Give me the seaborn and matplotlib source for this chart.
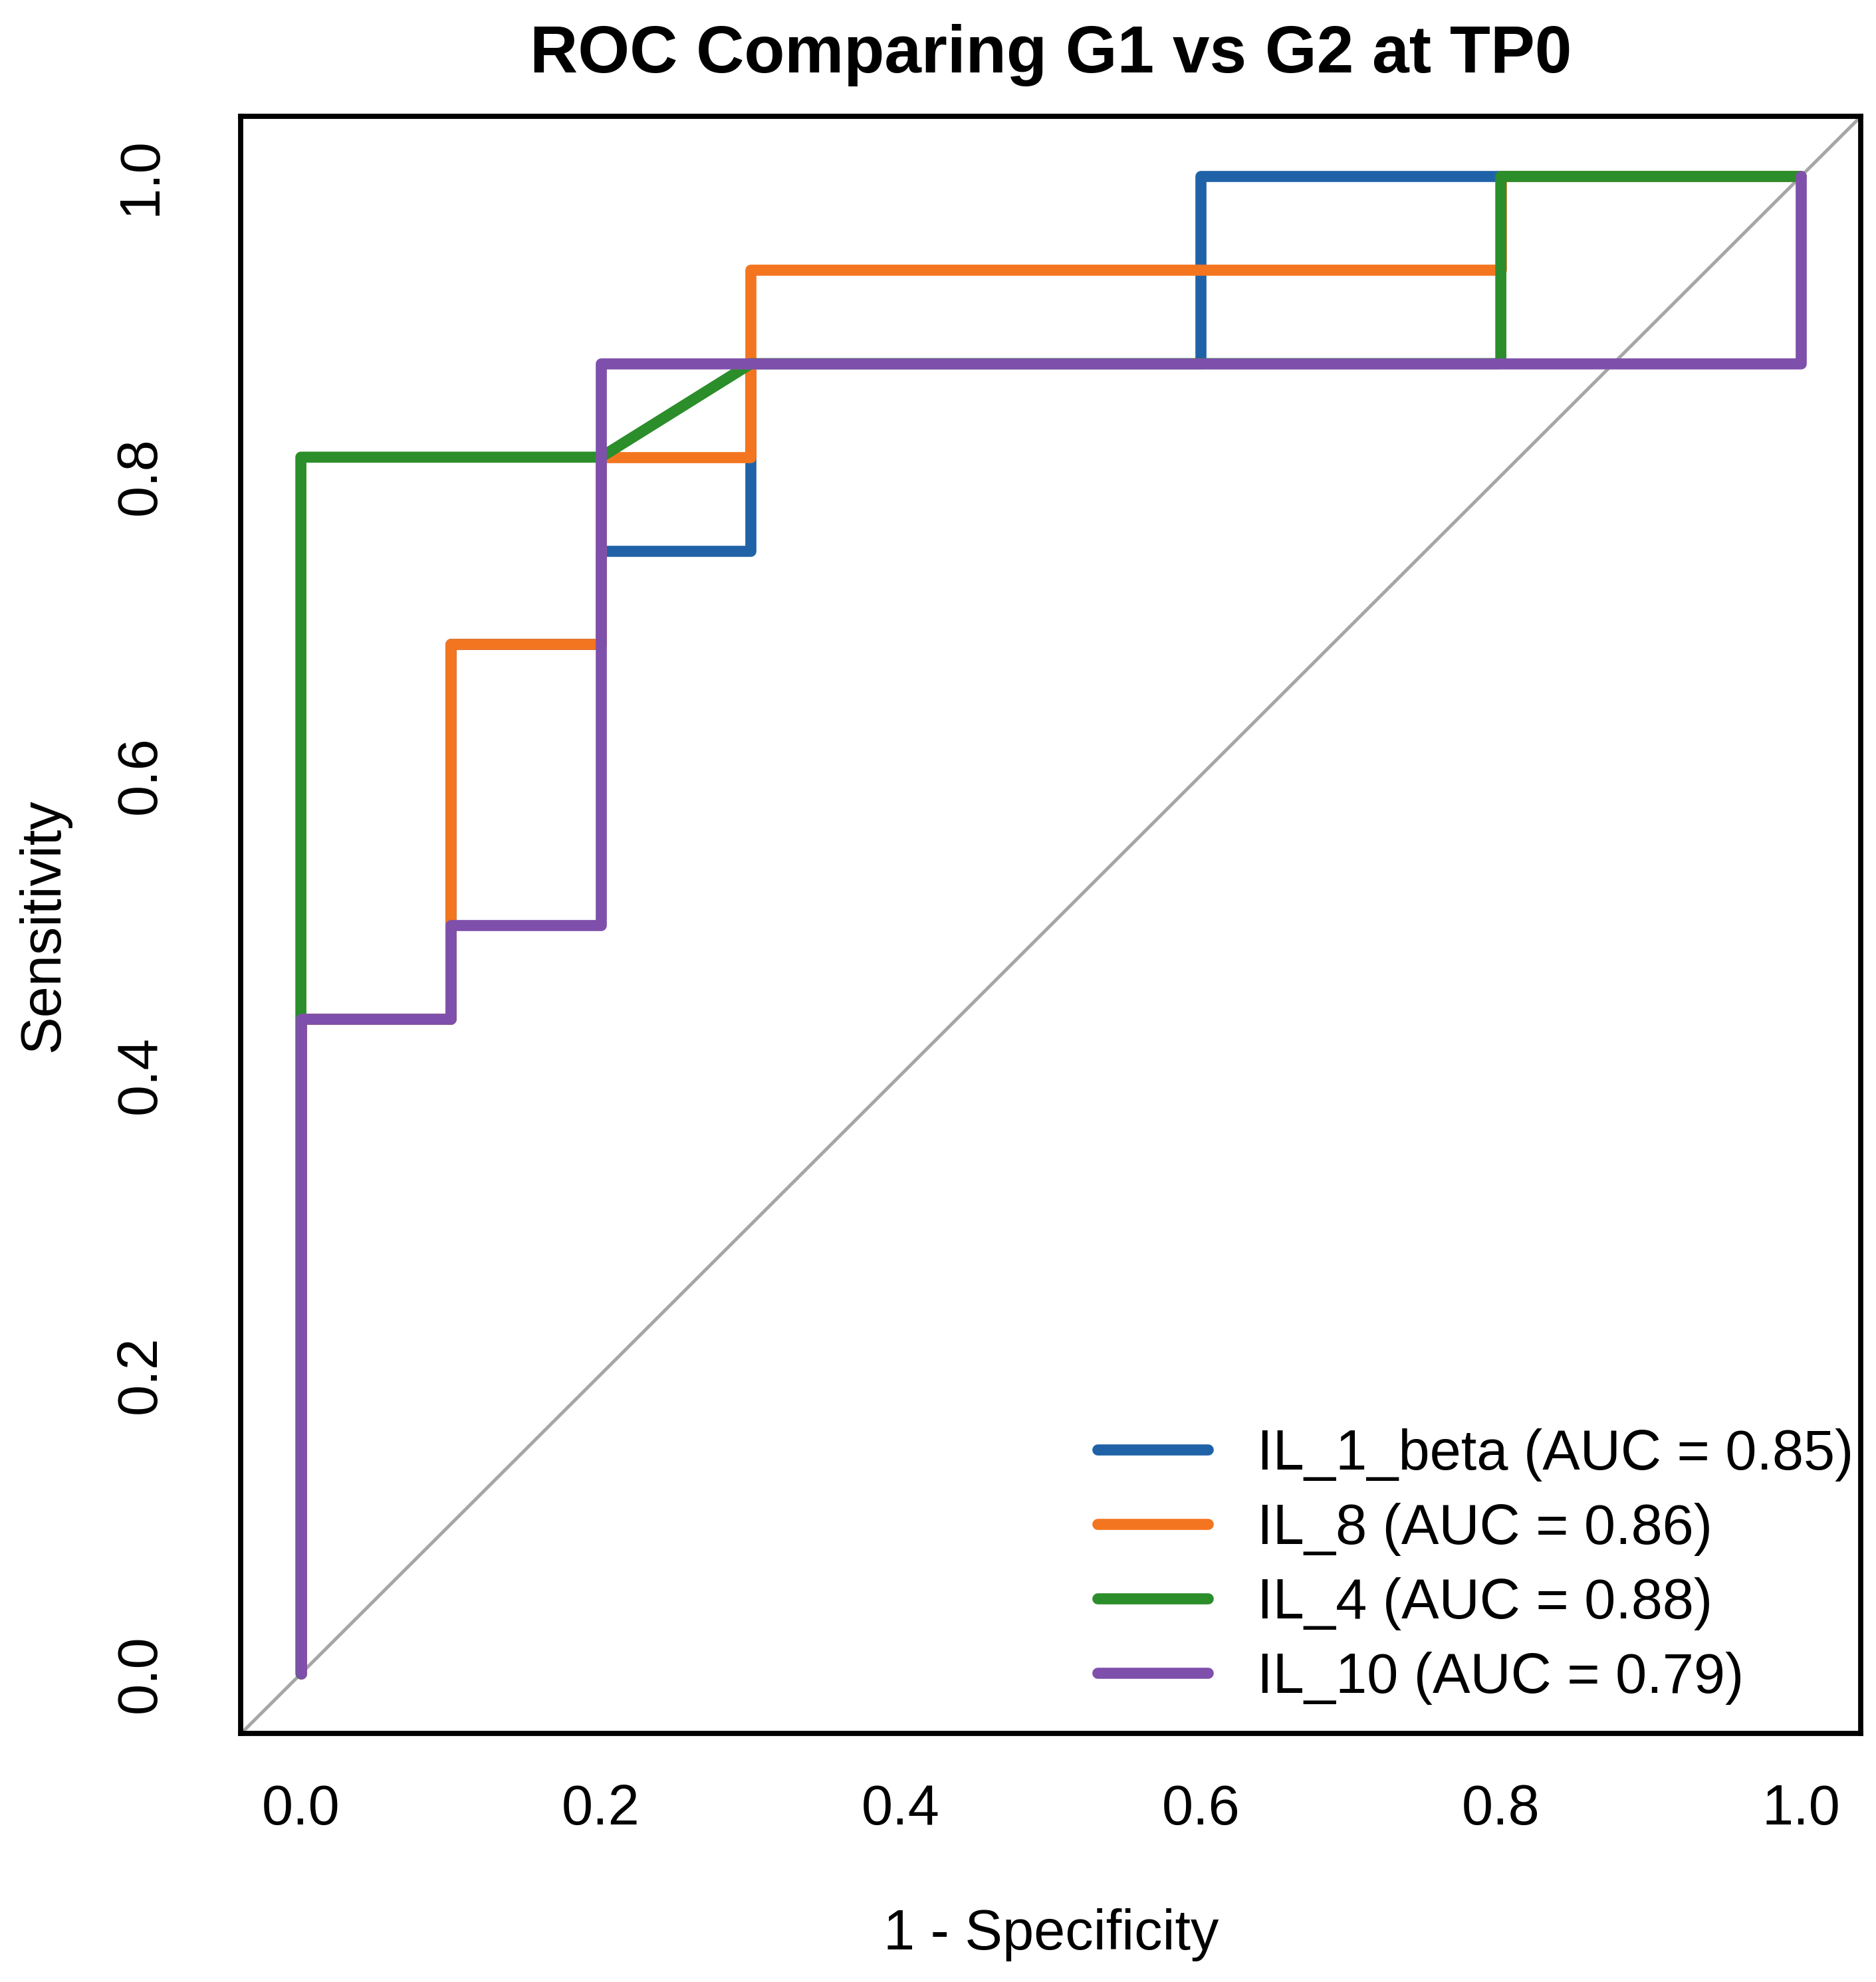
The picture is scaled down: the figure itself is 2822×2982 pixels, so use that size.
import numpy as np
import pandas as pd
import matplotlib
matplotlib.use('Agg')
import matplotlib.pyplot as plt
import seaborn as sns

# --- data (1 - specificity, sensitivity) ---
markers = ['IL_1_beta', 'IL_8', 'IL_4', 'IL_10']
auc_values = [0.85, 0.86, 0.88, 0.79]
line_colors = ['#2062a8', '#f4751f', '#2b8e2b', '#7e50ab']

fpr_il1b = [0.0, 0.0, 0.1, 0.1, 0.2, 0.2, 0.3, 0.3, 0.6, 0.6, 1.0]
tpr_il1b = [0.0, 0.4375, 0.4375, 0.6875, 0.6875, 0.75, 0.75, 0.875, 0.875, 1.0, 1.0]

fpr_il8 = [0.0, 0.0, 0.1, 0.1, 0.2, 0.2, 0.3, 0.3, 0.8, 0.8, 1.0]
tpr_il8 = [0.0, 0.4375, 0.4375, 0.6875, 0.6875, 0.8125, 0.8125, 0.9375, 0.9375, 1.0, 1.0]

fpr_il4 = [0.0, 0.0, 0.2, 0.3, 0.8, 0.8, 1.0]
tpr_il4 = [0.0, 0.8125, 0.8125, 0.875, 0.875, 1.0, 1.0]

fpr_il10 = [0.0, 0.0, 0.1, 0.1, 0.2, 0.2, 1.0, 1.0]
tpr_il10 = [0.0, 0.4375, 0.4375, 0.5, 0.5, 0.875, 0.875, 1.0]

tick_vals = [0.0, 0.2, 0.4, 0.6, 0.8, 1.0]

# --- long table for seaborn ---
frames = []
for name, fx, fy in zip(markers,
                        [fpr_il1b, fpr_il8, fpr_il4, fpr_il10],
                        [tpr_il1b, tpr_il8, tpr_il4, tpr_il10]):
    frames.append(pd.DataFrame({'fpr': fx, 'tpr': fy, 'marker': name,
                                'step': np.arange(len(fx))}))
roc_df = pd.concat(frames, ignore_index=True)

sns.set_theme(style='white')
plt.rcParams['font.family'] = ['Liberation Sans', 'DejaVu Sans']
plt.rcParams['text.color'] = 'black'
plt.rcParams['axes.labelcolor'] = 'black'

fig = plt.figure(figsize=(14.11, 14.91), dpi=200)
ax = fig.add_axes([0.1284, 0.1253, 0.9919 - 0.1284, 0.9412 - 0.1253])

ax.axline((0, 0), (1, 1), color='#a6a6a6', lw=1.8, zorder=1)

palette = dict(zip(markers, line_colors))
for name in markers:
    sub = roc_df[roc_df['marker'] == name]
    sns.lineplot(data=sub, x='fpr', y='tpr', color=palette[name], sort=False,
                 estimator=None, lw=6, ax=ax, legend=False,
                 solid_capstyle='round', solid_joinstyle='round', zorder=2)

ax.set_xlim(-0.04, 1.04)
ax.set_ylim(-0.04, 1.04)
ax.set_xticks(tick_vals)
ax.set_yticks(tick_vals)
ax.set_xticklabels([f'{v:.1f}' for v in tick_vals])
ax.set_yticklabels([f'{v:.1f}' for v in tick_vals], rotation=90, va='center')

for sp in ax.spines.values():
    sp.set_visible(True)
    sp.set_color('black')
    sp.set_linewidth(2.8)

ax.tick_params(axis='both', direction='out', length=18.7, width=2.3,
               color='black', labelsize=30.5, labelcolor='black')
ax.tick_params(axis='x', pad=8)
ax.tick_params(axis='y', pad=21)

ax.set_title('ROC Comparing G1 vs G2 at TP0', fontsize=36, fontweight='bold',
             pad=24, color='black')
ax.set_xlabel('1 - Specificity', fontsize=30.5)
ax.set_ylabel('Sensitivity', fontsize=30.5)
ax.xaxis.set_label_coords(0.5, -0.108)
ax.yaxis.set_label_coords(-0.105, 0.5)

handles = [plt.Line2D([], [], color=c, lw=6, solid_capstyle='round')
           for c in line_colors]
labels = [f'{m} (AUC = {a:.2f})' for m, a in zip(markers, auc_values)]
ax.legend(handles, labels, loc='upper left', bbox_to_anchor=(0.529, 0.189),
          frameon=False, fontsize=30.5, handlelength=1.96,
          handletextpad=0.87, labelspacing=0.38, borderpad=0,
          borderaxespad=0)

fig.savefig('out.png', dpi=200, facecolor='white')
